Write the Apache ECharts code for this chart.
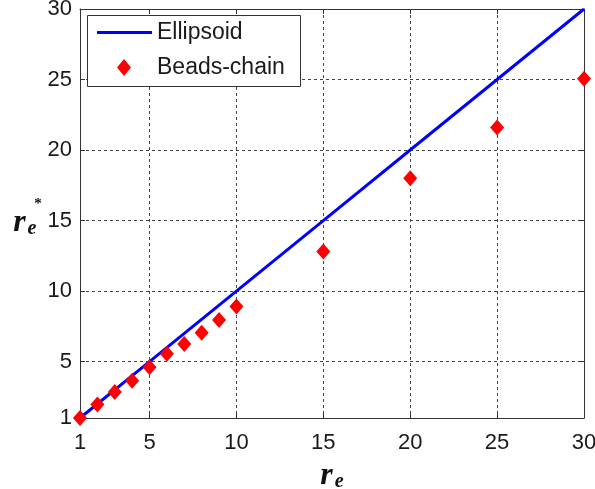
<!DOCTYPE html>
<html>
<head>
<meta charset="utf-8">
<script src="https://cdn.jsdelivr.net/npm/echarts@6/dist/echarts.min.js"></script>
<style>
  html, body { margin: 0; padding: 0; background: #fff; }
  #chart { width: 595px; height: 489px; }
</style>
</head>
<body>
<div id="chart"></div>
<script>
// Ellipsoid model: straight reference line
const ellipsoidX = [1, 5, 10, 15, 20, 25, 30];
const ellipsoidY = [1, 5, 10, 15, 20, 25, 30];
// Beads-chain model results
const beadsX = [1, 2, 3, 4, 5, 6, 7, 8, 9, 10, 15, 20, 25, 30];
const beadsY = [1.0, 1.95, 2.85, 3.65, 4.6, 5.55, 6.25, 7.05, 7.95, 8.9, 12.8, 18.0, 21.6, 25.05];
// Tick positions
const xTicks = [1, 5, 10, 15, 20, 25, 30];
const yTicks = [1, 5, 10, 15, 20, 25, 30];

const FONT = 'Liberation Sans, Arial, sans-serif';
const SERIF = 'Liberation Serif, Times New Roman, serif';
const AXIS_COLOR = '#333';
const TEXT_COLOR = '#1a1a1a';

const chart = echarts.init(document.getElementById('chart'), null, { renderer: 'canvas' });

const zip = (xs, ys) => xs.map((x, i) => [x, ys[i]]);

const mainAxisCommon = {
  type: 'value',
  min: 1,
  max: 30,
  axisLine: { show: true, onZero: false, lineStyle: { color: AXIS_COLOR, width: 1 } },
  axisTick: { show: true, inside: true, length: 5, lineStyle: { color: AXIS_COLOR } },
  splitLine: { show: true, lineStyle: { color: '#444', type: [3, 3], width: 1 } },
  axisLabel: { color: TEXT_COLOR, fontFamily: FONT, fontSize: 22 }
};

const mirrorAxis = (ticks) => ({
  type: 'value',
  min: 1,
  max: 30,
  axisLine: { show: true, onZero: false, lineStyle: { color: AXIS_COLOR, width: 1 } },
  axisTick: { show: true, inside: true, length: 5, customValues: ticks, lineStyle: { color: AXIS_COLOR } },
  axisLabel: { show: false },
  splitLine: { show: false }
});

const subscriptStyles = {
  r: { fontFamily: SERIF, fontStyle: 'italic', fontWeight: 'bold', fontSize: 32, color: '#111', lineHeight: 28 },
  e: { fontFamily: SERIF, fontStyle: 'italic', fontWeight: 'bold', fontSize: 20, color: '#111', padding: [13, 0, 0, 2], lineHeight: 28 }
};

chart.setOption({
  animation: false,
  backgroundColor: '#fff',
  grid: { left: 80, right: 11, top: 9, bottom: 71, containLabel: false, outerBoundsMode: 'none' },
  xAxis: [
    Object.assign({}, mainAxisCommon, {
      position: 'bottom',
      axisTick: Object.assign({}, mainAxisCommon.axisTick, { customValues: xTicks }),
      axisLabel: Object.assign({}, mainAxisCommon.axisLabel, { customValues: xTicks, margin: 14 }),
      name: '{r|r}{e|e}',
      nameLocation: 'middle',
      nameGap: 36,
      nameTextStyle: { rich: subscriptStyles }
    }),
    Object.assign(mirrorAxis(xTicks), { position: 'top' })
  ],
  yAxis: [
    Object.assign({}, mainAxisCommon, {
      position: 'left',
      axisTick: Object.assign({}, mainAxisCommon.axisTick, { customValues: yTicks }),
      axisLabel: Object.assign({}, mainAxisCommon.axisLabel, { customValues: yTicks, margin: 8 }),
      name: '{p|}{s|*}\n{r|r}{e|e}',
      nameLocation: 'middle',
      nameRotate: 0,
      nameGap: 64,
      nameTextStyle: {
        align: 'left',
        verticalAlign: 'middle',
        padding: [10, 0, 0, 0],
        rich: Object.assign({
          p: { width: 21, fontSize: 12, lineHeight: 8 },
          s: { fontFamily: SERIF, fontWeight: 'bold', fontSize: 15, color: '#111', lineHeight: 8 }
        }, subscriptStyles)
      }
    }),
    Object.assign(mirrorAxis(yTicks), { position: 'right' })
  ],
  graphic: [{
    type: 'rect',
    left: 87,
    top: 15,
    z: 50,
    shape: { width: 213, height: 71 },
    style: { fill: '#fff', stroke: AXIS_COLOR, lineWidth: 1 }
  }],
  legend: [
    {
      data: [{ name: 'Ellipsoid', icon: 'rect' }],
      left: 97,
      top: 21,
      z: 60,
      itemWidth: 55,
      itemHeight: 3,
      padding: 0,
      textStyle: { fontFamily: FONT, fontSize: 23, color: TEXT_COLOR }
    },
    {
      data: [{ name: 'Beads-chain', icon: 'diamond' }],
      left: 117,
      top: 56,
      z: 60,
      itemWidth: 14,
      itemHeight: 17,
      padding: 0,
      textStyle: { fontFamily: FONT, fontSize: 23, color: TEXT_COLOR, padding: [0, 0, 0, 21] }
    }
  ],
  series: [
    {
      name: 'Ellipsoid',
      type: 'line',
      data: zip(ellipsoidX, ellipsoidY),
      symbol: 'none',
      lineStyle: { color: '#0000ff', width: 3 },
      itemStyle: { color: '#0000ff' },
      z: 3
    },
    {
      name: 'Beads-chain',
      type: 'scatter',
      data: zip(beadsX, beadsY),
      symbol: 'diamond',
      symbolSize: [14, 16],
      itemStyle: { color: '#ff0000', opacity: 1 },
      z: 4
    }
  ]
});
</script>
</body>
</html>
